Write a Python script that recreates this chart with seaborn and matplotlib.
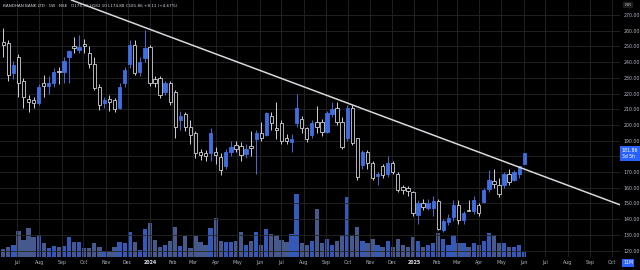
import numpy as np
import pandas as pd
import matplotlib
matplotlib.use("Agg")
import matplotlib.pyplot as plt
import matplotlib.dates as mdates
import matplotlib.transforms as mtransforms
import seaborn as sns

# ---------------- data ----------------
first_week = "2023-06-12"
opens = [253, 252, 233, 243, 228, 216.5, 216, 214, 227, 225,
         227, 234.5, 234, 243, 250, 248, 251.5, 246, 239, 224,
         214, 216.5, 216, 211, 227, 239, 251, 234, 242.6, 249.6,
         229, 230, 221, 227, 221, 203, 207, 199, 195, 182.7,
         182, 182, 183, 179.5, 174, 183, 187, 186.5, 181.5, 186.5,
         191, 195, 193.6, 205.7, 198, 201, 191.6, 189, 201, 204,
         198, 193.6, 202, 202, 195.5, 207, 211, 202, 191.6, 211,
         191.6, 174.5, 182.7, 176, 167.6, 173.8, 169, 175.7, 169, 160.5,
         160, 157, 142.6, 150, 147, 147, 151.5, 133, 138, 141.3,
         149, 139.5, 146, 145, 149, 151, 159, 164, 161.7, 161.7,
         169, 165, 169, 175.30]
highs = [262, 254, 241, 245, 230, 219, 218, 226, 232, 231,
         236, 237, 243, 248, 256, 257, 255, 250, 243, 226,
         218, 219, 217, 227, 237, 254, 254, 243, 260.5, 251,
         231, 231, 228, 228, 222, 209, 208, 203, 196, 185,
         184, 198, 186, 182, 185, 190, 190, 189, 188, 196,
         197, 202, 208.5, 208, 214.6, 203, 194, 194, 220, 206,
         199, 203, 212, 204, 209, 214.6, 214.6, 205, 213, 213,
         192, 184, 184, 177, 170, 175, 180, 177, 170, 162,
         161, 158, 152, 153, 153, 155, 153, 140, 143, 152,
         152, 145, 152, 155, 150, 160, 171, 172, 166, 170,
         172, 171, 174, 182.10]
lows = [243, 228, 229, 218, 211, 208, 211, 213, 218, 220,
        224, 226, 227, 227, 246, 246, 246, 236, 222, 209.5,
        211, 209, 208, 210, 224, 236, 232, 231, 240, 225,
        224, 217, 219, 213, 191.7, 197, 196, 188, 179, 178,
        177, 177, 175, 168, 172, 180, 183, 177, 179, 180,
        169, 190, 193, 197, 191, 188, 188, 183, 199, 195,
        189, 192, 195, 193, 195, 205, 200, 185, 190, 187,
        165, 172, 172, 165, 162, 166, 167, 169, 157, 156,
        155, 142, 137, 146, 146, 142, 133, 132, 136, 139,
        137, 137, 145, 143, 142, 150, 157, 160, 154, 160,
        162, 164, 166, 174.88]
closes = [251, 232, 238, 227, 218, 214.6, 214, 224, 225, 227,
          234, 233.5, 241, 247, 249, 249.5, 250, 239, 223.5, 213,
          216, 214.6, 210, 224, 235, 251, 233, 240, 249, 227,
          227, 219, 226.7, 214.6, 199, 206, 199, 193.5, 182, 181,
          180, 195, 181, 171, 183, 186, 185, 181, 184.6, 185.5,
          195, 192, 207.6, 201, 197, 190, 190, 191, 211, 198,
          191, 201, 199, 195.5, 207.6, 210, 202, 186, 211, 188.5,
          166.8, 182.7, 176, 166, 169, 168, 175.7, 170, 158.5, 158.5,
          158, 143.9, 150, 148, 150, 151.5, 134, 139, 140.7, 149,
          139.4, 144, 145.5, 152, 144, 158.5, 165, 162.4, 156, 169,
          163.6, 170, 173.75, 181.86]
volumes_m = [18, 22, 26, 57, 37, 64, 44, 48, 31, 20,
             24, 22, 24, 44, 33, 33, 20, 20, 31, 22,
             13, 13, 22, 33, 31, 55, 33, 15, 62, 75,
             37, 22, 26, 35, 66, 24, 46, 20, 46, 33,
             26, 64, 86, 35, 33, 33, 35, 55, 26, 35,
             55, 26, 62, 51, 48, 37, 33, 51, 139, 31,
             26, 35, 106, 31, 40, 26, 35, 48, 132, 48,
             66, 35, 31, 40, 26, 22, 35, 22, 40, 26,
             22, 44, 35, 22, 26, 31, 53, 40, 26, 48,
             31, 31, 22, 31, 26, 35, 53, 48, 31, 31,
             22, 22, 26, 11]
month_ticks = ["2023-07-01", "2023-08-01", "2023-09-01", "2023-10-01", "2023-11-01",
               "2023-12-01", "2024-01-01", "2024-02-01", "2024-03-01", "2024-04-01",
               "2024-05-01", "2024-06-01", "2024-07-01", "2024-08-01", "2024-09-01",
               "2024-10-01", "2024-11-01", "2024-12-01", "2025-01-01", "2025-02-01",
               "2025-03-01", "2025-04-01", "2025-05-01", "2025-06-01", "2025-07-01",
               "2025-08-01", "2025-09-01", "2025-10-01"]
month_labels = ["Jul", "Aug", "Sep", "Oct", "Nov", "Dec", "2024", "Feb", "Mar", "Apr",
                "May", "Jun", "Jul", "Aug", "Sep", "Oct", "Nov", "Dec", "2025", "Feb",
                "Mar", "Apr", "May", "Jun", "Jul", "Aug", "Sep", "Oct"]
price_ticks = [120, 130, 140, 150, 160, 170, 180, 190, 200, 210, 220, 230, 240, 250, 260, 270]
hidden_price_tick = 180   # covered by the last-price tag in the reference
trend_dates = ["2023-12-25", "2024-09-23"]
trend_prices = [262.1, 215.2]
title_text = "BANDHAN BANK LTD · 1W · NSE   O175.30 H182.10 L174.88 C181.86 +8.11 (+4.67%)"
last_price_label = "181.86\n3d 5h"
last_volume_label = "11M"

# ---------------- style ----------------
sns.set_theme(style="dark")
plt.rcParams["font.family"] = ["DejaVu Sans"]

UP = "#3f6ee0"
HOLLOW_EDGE = "#cfd2d8"
GRID = "#262626"
TXT = "#b2b5be"

o = np.array(opens); h = np.array(highs); l = np.array(lows); c = np.array(closes)
dates = pd.date_range(first_week, periods=len(o), freq="7D")
x = mdates.date2num(dates)
up = c >= o

fig = plt.figure(figsize=(6.4, 2.7), dpi=100, facecolor="black")
ax = fig.add_axes([0, 13 / 270, 620 / 640, 257 / 270])
axv = ax.twinx()

# volume (seaborn)
vdf = pd.DataFrame({"x": x, "vol": volumes_m, "dir": np.where(up, "up", "down")})
sns.barplot(data=vdf, x="x", y="vol", hue="dir", palette={"up": "#3559b8", "down": "#46598c"},
            native_scale=True, dodge=False, width=0.85, saturation=1, legend=False,
            errorbar=None, linewidth=0, ax=axv)
axv.set_ylim(0, 565)
axv.set_yticks([])
axv.set_xlabel(""); axv.set_ylabel("")
axv.set_facecolor("black")
for s in axv.spines.values():
    s.set_visible(False)

ax.set_zorder(axv.get_zorder() + 1)
ax.patch.set_visible(False)

# candles
wick_col = np.where(up, UP, HOLLOW_EDGE)
ax.vlines(x, l, h, colors=wick_col, linewidth=0.7, zorder=2)
body_h = np.maximum(np.abs(c - o), 0.4)
ax.bar(x, body_h, bottom=np.minimum(o, c), width=4.6,
       color=np.where(up, UP, "black"), edgecolor=np.where(up, UP, HOLLOW_EDGE),
       linewidth=0.6, zorder=3)

# trend line
tx = mdates.date2num(pd.to_datetime(trend_dates))
ax.axline((tx[0], trend_prices[0]), (tx[1], trend_prices[1]), color="#d6d8dc", linewidth=1.1, zorder=4)

# axes
ax.set_xlim(mdates.date2num(pd.Timestamp("2023-06-07 12:00")), mdates.date2num(pd.Timestamp("2025-10-12 12:00")))
ax.set_ylim(115.9, 279.6)
ax.set_xticks(mdates.date2num(pd.to_datetime(month_ticks)))
ax.set_xticklabels(month_labels)
ax.set_yticks(price_ticks)
ax.set_yticklabels(["" if p == hidden_price_tick else f"{p:.2f}" for p in price_ticks])
ax.yaxis.tick_right()
ax.tick_params(axis="both", length=0, labelsize=3.4, colors=TXT)
ax.tick_params(axis="x", pad=2.2)
ax.tick_params(axis="y", pad=2.5)
for t in ax.get_xticklabels():
    if t.get_text() in ("2024", "2025"):
        t.set_fontweight("bold")
        t.set_color("#e0e3eb")
ax.grid(True, color=GRID, linewidth=0.6)
for s in ax.spines.values():
    s.set_visible(False)

trans = mtransforms.blended_transform_factory(ax.transAxes, ax.transData)
ax.text(1.003, closes[-1], last_price_label, transform=trans, fontsize=3.3, color="white",
        va="center", ha="left", linespacing=1.3, zorder=10, clip_on=False,
        bbox=dict(boxstyle="square,pad=0.35", fc="#2962ff", ec="none"))
fig.text(623 / 640, 1 - 263 / 270, last_volume_label, fontsize=3.3, color="white",
         va="center", ha="left", zorder=10,
         bbox=dict(boxstyle="square,pad=0.3", fc="#2962ff", ec="none"))

fig.text(628 / 640, 1 - 5 / 270, "INR", fontsize=3.0, color=TXT, va="center", ha="center",
         bbox=dict(boxstyle="square,pad=0.3", fc="#1e1e1e", ec="none"))
fig.text(3 / 640, 1 - 6 / 270, title_text, fontsize=3.0, color="#d1d4dc", va="center", ha="left")

fig.savefig("out.png", dpi=100, facecolor="black")
